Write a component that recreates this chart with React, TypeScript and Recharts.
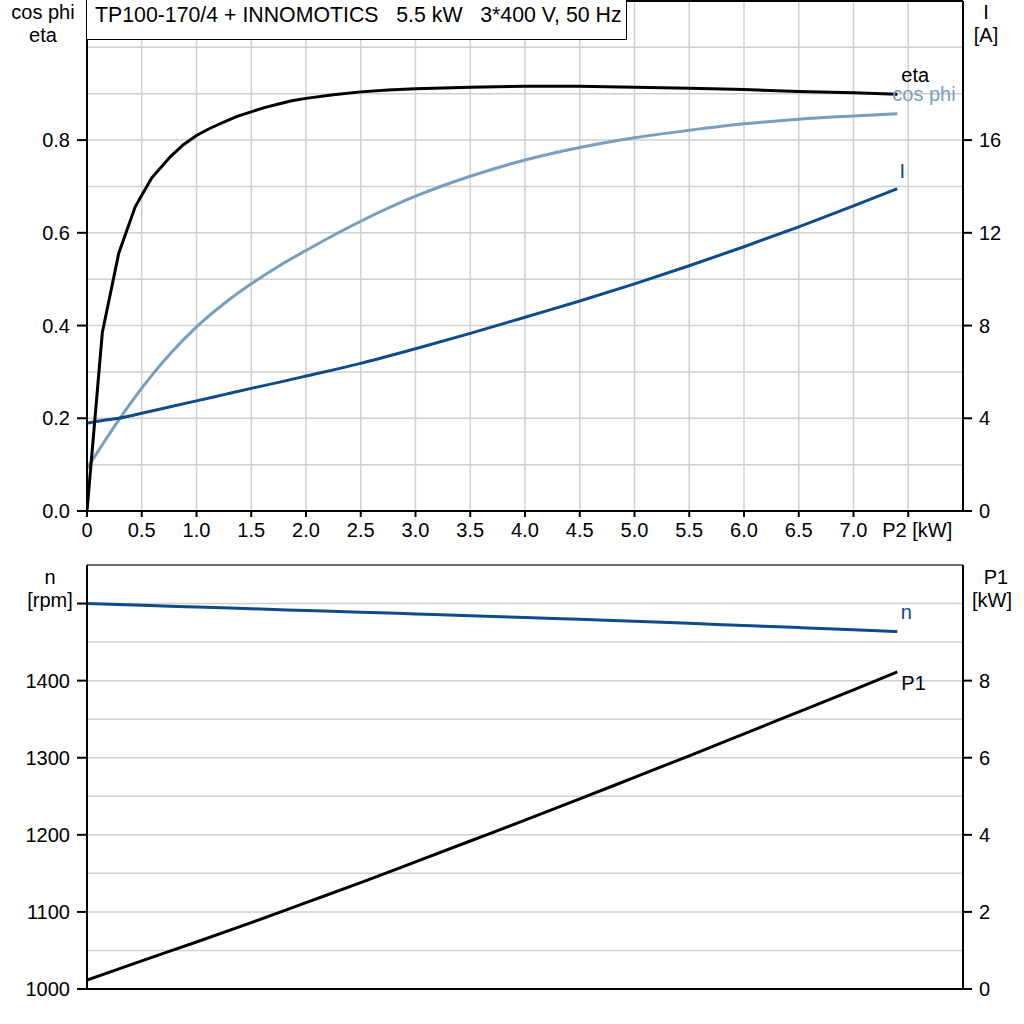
import React from 'react';
import { LineChart, Line, XAxis, YAxis, CartesianGrid, ReferenceLine } from 'recharts';

// ---- Top panel data (P2 in kW) ----
const p2Eta = [0, 0.14, 0.29, 0.44, 0.59, 0.76, 0.88, 1.0, 1.12, 1.25, 1.37, 1.5, 1.62, 1.75, 1.87, 2.0, 2.25, 2.5, 2.75, 3.0, 3.5, 4.0, 4.5, 5.0, 5.5, 6.0, 6.5, 7.0, 7.4];
const etaValues = [0, 0.385, 0.556, 0.656, 0.718, 0.764, 0.79, 0.81, 0.825, 0.839, 0.851, 0.861, 0.87, 0.878, 0.885, 0.89, 0.898, 0.904, 0.908, 0.911, 0.914, 0.916, 0.916, 0.914, 0.912, 0.909, 0.905, 0.902, 0.899];
const p2Top = [0, 0.14, 0.29, 0.44, 0.59, 0.76, 1.0, 1.25, 1.5, 1.75, 2.0, 2.5, 3.0, 3.5, 4.0, 4.5, 5.0, 5.5, 6.0, 6.5, 7.0, 7.4];
const cosPhiValues = [0.092, 0.143, 0.196, 0.246, 0.292, 0.339, 0.397, 0.447, 0.49, 0.528, 0.562, 0.625, 0.679, 0.722, 0.757, 0.784, 0.805, 0.821, 0.835, 0.845, 0.852, 0.857];
const currentValues = [3.78, 3.9, 4.0, 4.15, 4.31, 4.5, 4.75, 5.02, 5.29, 5.55, 5.82, 6.37, 7.0, 7.66, 8.36, 9.06, 9.8, 10.58, 11.4, 12.26, 13.16, 13.9];

// ---- Bottom panel data ----
const p2Bottom = [0, 0.5, 1, 1.5, 2, 2.5, 3, 3.5, 4, 4.5, 5, 5.5, 6, 6.5, 7, 7.4];
const speedValues = [1500, 1497.8, 1495.5, 1493.2, 1491, 1488.8, 1486.5, 1484.2, 1482, 1479.5, 1477, 1474.3, 1471.5, 1468.8, 1466, 1463.6];
const p1Values = [0.23, 0.73, 1.22, 1.72, 2.24, 2.76, 3.3, 3.84, 4.38, 4.93, 5.49, 6.05, 6.62, 7.19, 7.76, 8.23];

// ---- Ticks & grids ----
const xTicks = [0, 0.5, 1, 1.5, 2, 2.5, 3, 3.5, 4, 4.5, 5, 5.5, 6, 6.5, 7, 7.5];
const xGrid = [0.5, 1, 1.5, 2, 2.5, 3, 3.5, 4, 4.5, 5, 5.5, 6, 6.5, 7, 7.5];
const leftTopTicks = [0, 0.2, 0.4, 0.6, 0.8];
const leftTopGrid = [0.1, 0.2, 0.3, 0.4, 0.5, 0.6, 0.7, 0.8, 0.9, 1.0];
const rightTopTicks = [0, 4, 8, 12, 16];
const leftBottomTicks = [1000, 1100, 1200, 1300, 1400, 1500];
const leftBottomGrid = [1050, 1100, 1150, 1200, 1250, 1300, 1350, 1400, 1450, 1500];
const rightBottomTicks = [0, 2, 4, 6, 8];

const TITLE = 'TP100-170/4 + INNOMOTICS   5.5 kW   3*400 V, 50 Hz';

const etaData = p2Eta.map((p, i) => ({ p2: p, eta: etaValues[i] }));
const topData = p2Top.map((p, i) => ({ p2: p, cosPhi: cosPhiValues[i], current: currentValues[i] }));
const bottomData = p2Bottom.map((p, i) => ({ p2: p, n: speedValues[i], p1: p1Values[i] }));

const FONT = '"Liberation Sans", Arial, sans-serif';
const FS = 20;
const BLACK = '#000000';
const COS = '#789ec0';
const DARK = '#0d4c86';
const GRID = '#d0d0d0';

const axisLine = { stroke: BLACK, strokeWidth: 2 };
const tickLine = { stroke: BLACK, strokeWidth: 2 };
const tickStyle = { fontFamily: FONT, fontSize: FS, fill: BLACK };

const XTick = (props: any) => {
  const { x, y, payload } = props;
  const v = payload.value;
  if (v === 7.5) {
    return (
      <text x={x - 26} y={y} dy="0.71em" textAnchor="start" style={tickStyle}>P2 [kW]</text>
    );
  }
  const label = v === 0 ? '0' : v.toFixed(1);
  return (
    <text x={x} y={y} dy="0.71em" textAnchor="middle" style={tickStyle}>{label}</text>
  );
};

const endLabel = (text: string, color: string, dx: number, dy: number, anchor: string, total: number) => (props: any) => {
  const { x, y, index } = props;
  if (index !== total - 1) return null;
  return (
    <text x={x + dx} y={y + dy} textAnchor={anchor} style={{ fontFamily: FONT, fontSize: FS, fill: color }}>{text}</text>
  );
};

const overlayText = (text: string, left: number, top: number, width: number, align: 'center' | 'left' | 'right' = 'center') => (
  <div style={{ position: 'absolute', left, top, width, textAlign: align, fontFamily: FONT, fontSize: FS, lineHeight: '23px', color: BLACK, whiteSpace: 'pre' }}>{text}</div>
);

export default function App() {
  return (
    <div style={{ position: 'absolute', left: 0, top: 0, width: 1024, height: 1024, background: '#fff', overflow: 'hidden' }}>
      <div style={{ position: 'absolute', left: 0, top: 0 }}>
        <LineChart width={1024} height={545} data={topData} margin={{ top: 1, right: 0, bottom: 0, left: 0 }}>
          <CartesianGrid yAxisId="left" stroke={GRID} strokeWidth={1.5} horizontalValues={leftTopGrid} verticalValues={xGrid} />
          <XAxis dataKey="p2" type="number" domain={[0, 8]} ticks={xTicks} interval={0} height={34}
            axisLine={axisLine} tickLine={tickLine} tickSize={6} tickMargin={6} tick={<XTick />} allowDataOverflow />
          <YAxis yAxisId="left" type="number" domain={[0, 1.1]} ticks={leftTopTicks} interval={0} width={87}
            axisLine={axisLine} tickLine={tickLine} tickSize={10} tickMargin={7} tick={tickStyle}
            tickFormatter={(v: number) => v.toFixed(1)} allowDataOverflow />
          <YAxis yAxisId="right" orientation="right" type="number" domain={[0, 22]} ticks={rightTopTicks} interval={0} width={61}
            axisLine={axisLine} tickLine={tickLine} tickSize={9} tickMargin={7} tick={tickStyle} allowDataOverflow />
          <ReferenceLine yAxisId="left" y={1.1} stroke={BLACK} strokeWidth={2} />
          <Line yAxisId="left" dataKey="cosPhi" type="monotone" stroke={COS} strokeWidth={3} dot={false} isAnimationActive={false}
            label={endLabel('cos phi', COS, -5, -13, 'start', topData.length)} />
          <Line yAxisId="right" dataKey="current" type="monotone" stroke={DARK} strokeWidth={3} dot={false} isAnimationActive={false}
            label={endLabel('I', DARK, 5, -11, 'middle', topData.length)} />
          <Line yAxisId="left" data={etaData} dataKey="eta" type="linear" stroke={BLACK} strokeWidth={3} dot={false} isAnimationActive={false}
            label={endLabel('eta', BLACK, 4, -12, 'start', etaData.length)} />
        </LineChart>
      </div>
      <div style={{ position: 'absolute', left: 0, top: 545 }}>
        <LineChart width={1024} height={479} data={bottomData} margin={{ top: 20, right: 0, bottom: 0, left: 0 }}>
          <CartesianGrid yAxisId="left" stroke={GRID} strokeWidth={1.5} horizontalValues={leftBottomGrid} verticalValues={xGrid} />
          <XAxis dataKey="p2" type="number" domain={[0, 8]} ticks={xTicks} interval={0} height={35}
            axisLine={axisLine} tickLine={false} tick={false} allowDataOverflow />
          <YAxis yAxisId="left" type="number" domain={[1000, 1550]} ticks={leftBottomTicks} interval={0} width={87}
            axisLine={axisLine} tickLine={tickLine} tickSize={10} tickMargin={7} tick={tickStyle}
            tickFormatter={(v: number) => (v === 1500 ? '' : String(v))} allowDataOverflow />
          <YAxis yAxisId="right" orientation="right" type="number" domain={[0, 11]} ticks={rightBottomTicks} interval={0} width={61}
            axisLine={axisLine} tickLine={tickLine} tickSize={9} tickMargin={7} tick={tickStyle} allowDataOverflow />
          <ReferenceLine yAxisId="left" y={1550} stroke="#707070" strokeWidth={2} />
          <Line yAxisId="left" dataKey="n" type="monotone" stroke={DARK} strokeWidth={3} dot={false} isAnimationActive={false}
            label={endLabel('n', DARK, 9, -13, 'middle', bottomData.length)} />
          <Line yAxisId="right" dataKey="p1" type="monotone" stroke={BLACK} strokeWidth={3} dot={false} isAnimationActive={false}
            label={endLabel('P1', BLACK, 4, 18, 'start', bottomData.length)} />
        </LineChart>
      </div>
      <div style={{ position: 'absolute', left: 86, top: 0, width: 541, height: 40, boxSizing: 'border-box', border: '1px solid #000', borderTop: 'none', background: '#fff', fontFamily: FONT, fontSize: 21.3, lineHeight: '30px', paddingLeft: 8, whiteSpace: 'pre', color: BLACK }}>{TITLE}</div>
      {overlayText('cos phi', 0, 1, 86)}
      {overlayText('eta', 0, 24, 86)}
      {overlayText('I', 964, 1, 44)}
      {overlayText('[A]', 964, 24, 44)}
      {overlayText('n', 0, 566, 100)}
      {overlayText('[rpm]', 0, 589, 100)}
      {overlayText('P1', 970, 566, 52)}
      {overlayText('[kW]', 970, 589, 44)}
    </div>
  );
}
